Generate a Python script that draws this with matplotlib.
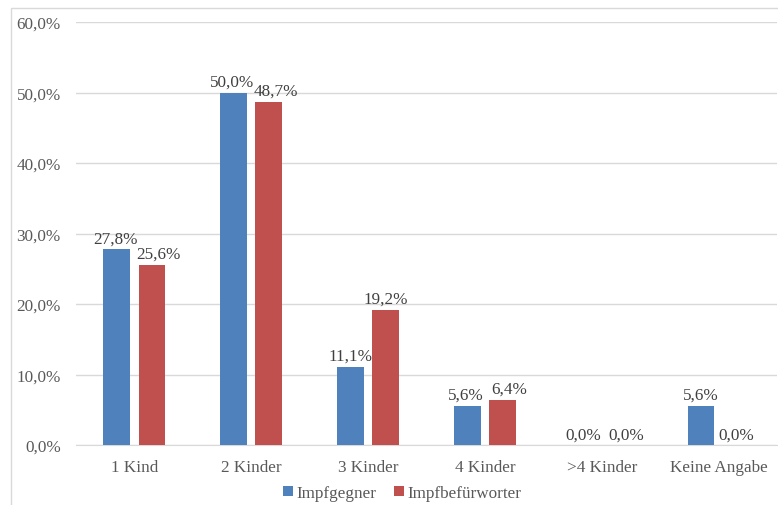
import matplotlib
matplotlib.use("Agg")
import matplotlib.pyplot as plt
from matplotlib.patches import Rectangle
import numpy as np

categories = ["1 Kind", "2 Kinder", "3 Kinder", "4 Kinder", ">4 Kinder", "Keine Angabe"]
impfgegner = [27.8, 50.0, 11.1, 5.6, 0.0, 5.6]
impfbefuerworter = [25.6, 48.7, 19.2, 6.4, 0.0, 0.0]
series_names = ["Impfgegner", "Impfbefürworter"]
yticks = [0, 10, 20, 30, 40, 50, 60]

BLUE = "#4F81BD"
RED = "#C0504D"
TEXT = "#595959"
GRID = "#D9D9D9"
FS = 12.3

plt.rcParams["font.family"] = ["Liberation Serif", "DejaVu Serif"]

fig = plt.figure(figsize=(7.78, 5.06), dpi=100)
ax = fig.add_axes([76 / 778, 1 - 446 / 506, 701 / 778, (446 - 23) / 506])

x = np.arange(len(categories))
w = 0.23
off = 0.15
b1 = ax.bar(x - off, impfgegner, w, color=BLUE, label=series_names[0], zorder=3)
b2 = ax.bar(x + off, impfbefuerworter, w, color=RED, label=series_names[1], zorder=3)

def fmt(v):
    return f"{v:.1f}%".replace(".", ",")

# value labels; push the right-hand label aside where the pair would collide
for i in range(len(categories)):
    a, b = impfgegner[i], impfbefuerworter[i]
    close = abs(a - b) < 3.5
    for rect, v, dx in ((b1[i], a, -1 if close else 0), (b2[i], b, 5 if close else 0)):
        ax.annotate(fmt(v), (rect.get_x() + rect.get_width() / 2, v),
                    xytext=(dx, 2), textcoords="offset points",
                    ha="center", va="bottom", fontsize=FS, color="#404040")

ax.set_xlim(-0.5, len(categories) - 0.5)
ax.set_ylim(0, 60)
ax.set_yticks(yticks)
ax.set_yticklabels([fmt(float(t)) for t in yticks])
ax.set_xticks(x)
ax.set_xticklabels(categories)
ax.tick_params(axis="y", length=0, pad=11, labelsize=FS, labelcolor=TEXT)
ax.tick_params(axis="x", length=0, pad=10, labelsize=FS, labelcolor=TEXT)
ax.grid(axis="y", color=GRID, linewidth=1, zorder=0)
for s in ("left", "right", "top"):
    ax.spines[s].set_visible(False)
ax.spines["bottom"].set_color(GRID)

leg = fig.legend(handles=[b1, b2], labels=series_names, loc="center",
                 bbox_to_anchor=(402 / 778, 1 - 494 / 506), ncol=2, frameon=False,
                 fontsize=FS, handlelength=0.6, handleheight=0.6,
                 handletextpad=0.2, columnspacing=1.0, labelcolor=TEXT)

fig.patches.append(Rectangle((11 / 778, -0.05), 1.0, 1 - 9 / 506 + 0.05,
                             transform=fig.transFigure, fill=False,
                             edgecolor=GRID, linewidth=1))

fig.savefig("out.png", dpi=100)
